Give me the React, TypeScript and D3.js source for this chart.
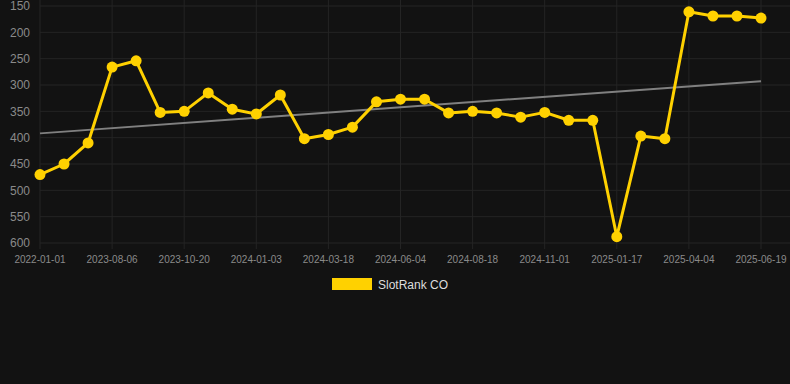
import React from "react";
import * as d3 from "d3";

const categories: string[] = [
  "2022-01-01", "2023-07-14", "2023-07-27", "2023-08-06", "2023-08-19", "2023-09-05",
  "2023-10-20", "2023-11-05", "2023-11-22", "2024-01-03", "2024-01-20", "2024-02-10",
  "2024-03-18", "2024-04-05", "2024-05-01", "2024-06-04", "2024-06-25", "2024-07-20",
  "2024-08-18", "2024-09-05", "2024-10-01", "2024-11-01", "2024-11-25", "2024-12-20",
  "2025-01-17", "2025-02-10", "2025-03-05", "2025-04-04", "2025-04-30", "2025-05-25",
  "2025-06-19",
];
const values: number[] = [
  470, 450, 410, 266, 254, 352, 350, 315, 346, 355, 319, 402, 394, 380, 332, 327,
  327, 353, 350, 353, 361, 352, 367, 367, 588, 397, 402, 161, 169, 169, 173,
];
const yTicks: number[] = [150, 200, 250, 300, 350, 400, 450, 500, 550, 600];
const seriesName = "SlotRank CO";

const W = 790;
const H = 384;
const left = 40;
const right = 761;
const top = 6;
const bottom = 243;

export default function App() {
  const x = d3.scalePoint<number>().domain(d3.range(categories.length)).range([left, right]);
  const y = d3.scaleLinear().domain([150, 600]).range([top, bottom]);

  const line = d3
    .line<number>()
    .x((_, i) => x(i) as number)
    .y((d) => y(d));

  // linear regression trend
  const n = values.length;
  const xs = d3.range(n);
  const mx = d3.mean(xs) as number;
  const my = d3.mean(values) as number;
  let num = 0;
  let den = 0;
  xs.forEach((xi, i) => {
    num += (xi - mx) * (values[i] - my);
    den += (xi - mx) * (xi - mx);
  });
  const slope = num / den;
  const intercept = my - slope * mx;
  const t0 = intercept;
  const t1 = intercept + slope * (n - 1);

  const labelIdx = xs.filter((i) => i % 3 === 0);

  return (
    <svg
      width={W}
      height={H}
      style={{ position: "absolute", left: 0, top: 0, background: "#121212" }}
      fontFamily="'Liberation Sans', Arial, sans-serif"
    >
      <rect x={0} y={0} width={W} height={H} fill="#121212" />
      {yTicks.map((t) => (
        <g key={t}>
          <line x1={left} x2={W} y1={y(t)} y2={y(t)} stroke="#242424" strokeWidth={1} />
          <text x={30} y={y(t)} dy="0.35em" textAnchor="end" fill="#8a8a8a" fontSize={12}>
            {t}
          </text>
        </g>
      ))}
      {labelIdx.map((i) => (
        <g key={i}>
          <line
            x1={x(i) as number}
            x2={x(i) as number}
            y1={top - 6}
            y2={bottom + 6}
            stroke="#242424"
            strokeWidth={1}
          />
          <text x={x(i) as number} y={259} dy="0.35em" textAnchor="middle" fill="#8a8a8a" fontSize={10}>
            {categories[i]}
          </text>
        </g>
      ))}
      <line
        x1={x(0) as number}
        x2={x(n - 1) as number}
        y1={y(t0)}
        y2={y(t1)}
        stroke="#808080"
        strokeWidth={2}
      />
      <path d={line(values) as string} fill="none" stroke="#FFD100" strokeWidth={3} strokeLinejoin="round" />
      {values.map((v, i) => (
        <circle key={i} cx={x(i) as number} cy={y(v)} r={5.5} fill="#FFD100" />
      ))}
      <rect x={332} y={278} width={40} height={12} fill="#FFD100" />
      <text x={378} y={284.5} dy="0.35em" fill="#dddddd" fontSize={12}>
        {seriesName}
      </text>
    </svg>
  );
}
